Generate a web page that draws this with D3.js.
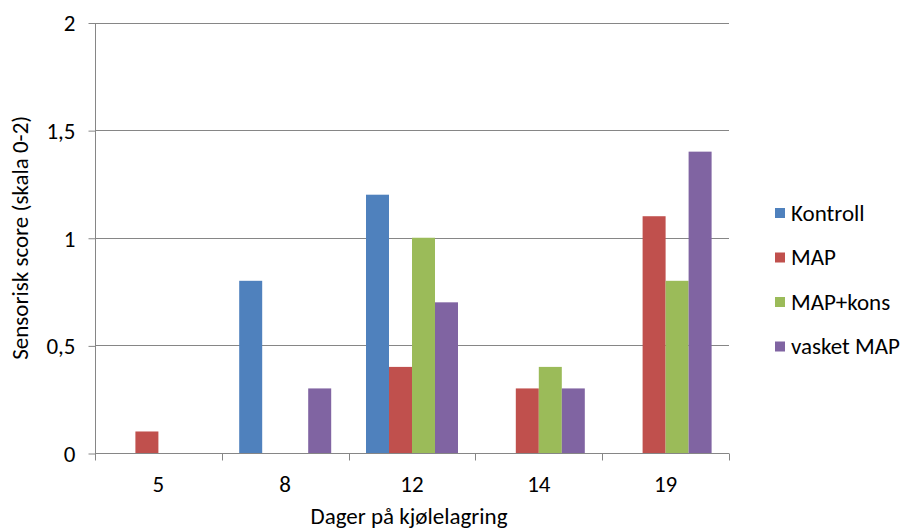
<!DOCTYPE html>
<html>
<head>
<meta charset="utf-8">
<script src="https://cdn.jsdelivr.net/npm/d3@7"></script>
<style>
  html, body { margin: 0; padding: 0; background: #fff; }
  svg text { font-family: Carlito, Lato, "Open Sans", "Liberation Sans", sans-serif; fill: #000; }
</style>
</head>
<body>
<svg id="chart" width="906" height="530"></svg>
<script>
// Storage days on the x axis
const days = ["5", "8", "12", "14", "19"];
// Series names and colours
const seriesNames = ["Kontroll", "MAP", "MAP+kons", "vasket MAP"];
const seriesColors = ["#4F81BD", "#C0504D", "#9BBB59", "#8064A2"];
// Sensory scores per series, one value per storage day
const kontroll = [0, 0.8, 1.2, 0, 0];
const map = [0.1, 0, 0.4, 0.3, 1.1];
const mapKons = [0, 0, 1.0, 0.4, 0.8];
const vasketMap = [0, 0.3, 0.7, 0.3, 1.4];
// Y axis ticks and labels
const yTicks = [0, 0.5, 1, 1.5, 2];
const yTickLabels = ["0", "0,5", "1", "1,5", "2"];

const seriesValues = [kontroll, map, mapKons, vasketMap];

const svg = d3.select("#chart");
const plotLeft = 95, plotRight = 729, plotTop = 22.5, plotBottom = 453;
const fontSize = 23;

const x = d3.scaleBand().domain(days).range([plotLeft, plotRight]).paddingInner(0).paddingOuter(0);
const y = d3.scaleLinear().domain([0, 2]).range([plotBottom, plotTop]);
const groupPad = (x.bandwidth() - 92) / 2;
const xs = d3.scaleBand().domain(seriesNames).range([groupPad, x.bandwidth() - groupPad]).padding(0);

const gridColor = "#868686";

// Horizontal gridlines
svg.append("g").selectAll("line").data(yTicks.filter(d => d > 0)).join("line")
  .attr("x1", plotLeft).attr("x2", plotRight)
  .attr("y1", d => Math.round(y(d)) + 0.5).attr("y2", d => Math.round(y(d)) + 0.5)
  .attr("stroke", gridColor).attr("stroke-width", 1);

// Bars
const groups = svg.append("g").selectAll("g").data(days).join("g")
  .attr("transform", d => `translate(${x(d)},0)`);
groups.selectAll("rect")
  .data((d, i) => seriesNames.map((s, j) => ({ s, j, v: seriesValues[j][i] })))
  .join("rect")
  .attr("x", d => xs(d.s))
  .attr("width", xs.bandwidth())
  .attr("y", d => y(d.v))
  .attr("height", d => y(0) - y(d.v))
  .attr("fill", d => seriesColors[d.j]);

// Y axis
const yAxis = d3.axisLeft(y).tickValues(yTicks).tickFormat((d, i) => yTickLabels[i]).tickSize(7).tickPadding(13);
const gy = svg.append("g").attr("transform", `translate(${plotLeft + 0.5},0.5)`).call(yAxis);
gy.select(".domain").attr("stroke", gridColor).attr("d", `M0,${plotTop}V${plotBottom}`);
gy.selectAll(".tick line").attr("stroke", gridColor);
gy.selectAll(".tick text").attr("font-size", fontSize)
  .attr("font-family", 'Carlito, Lato, "Open Sans", "Liberation Sans", sans-serif')
  .attr("dy", "0.34em");

// X axis with tick marks on category boundaries
const xAxisG = svg.append("g").attr("transform", `translate(0,${Math.round(plotBottom) + 0.5})`);
xAxisG.append("line").attr("x1", plotLeft).attr("x2", plotRight).attr("stroke", gridColor);
const boundaries = days.map(d => x(d)).concat([plotRight]);
xAxisG.selectAll("line.tk").data(boundaries).join("line").attr("class", "tk")
  .attr("x1", d => Math.round(d) + 0.5).attr("x2", d => Math.round(d) + 0.5)
  .attr("y1", 0).attr("y2", 7).attr("stroke", gridColor);
xAxisG.selectAll("text").data(days).join("text")
  .attr("x", d => x(d) + x.bandwidth() / 2)
  .attr("y", 38)
  .attr("text-anchor", "middle")
  .attr("font-size", fontSize)
  .text(d => d);

// Axis titles
svg.append("text")
  .attr("x", (plotLeft + plotRight) / 2 - 3).attr("y", 524)
  .attr("text-anchor", "middle").attr("font-size", fontSize)
  .text("Dager på kjølelagring");
svg.append("text")
  .attr("transform", `translate(28,${(plotTop + plotBottom) / 2}) rotate(-90)`)
  .attr("text-anchor", "middle").attr("font-size", fontSize)
  .text("Sensorisk score (skala 0-2)");

// Legend
const legend = svg.append("g").selectAll("g").data(seriesNames).join("g")
  .attr("transform", (d, i) => `translate(775,${213 + i * 44.5})`);
legend.append("rect").attr("x", 0).attr("y", -5).attr("width", 10).attr("height", 10)
  .attr("fill", (d, i) => seriesColors[i]);
legend.append("text").attr("x", 16).attr("y", 7.5).attr("font-size", fontSize).text(d => d);
</script>
</body>
</html>
